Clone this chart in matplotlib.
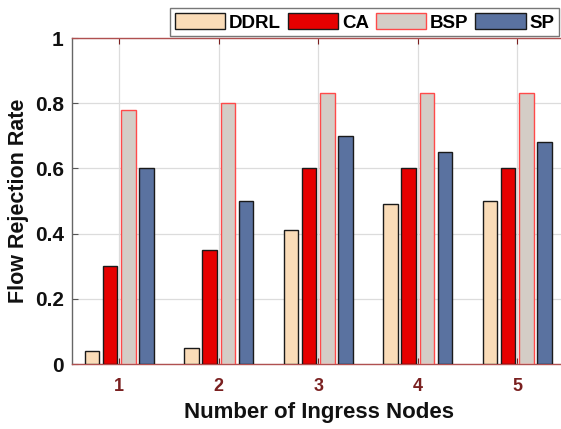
import matplotlib
matplotlib.use("Agg")
import matplotlib.pyplot as plt
import numpy as np

plt.rcParams['font.family'] = ['Liberation Sans', 'DejaVu Sans']
plt.rcParams['font.weight'] = 'bold'

nodes = [1, 2, 3, 4, 5]
series_names = ["DDRL", "CA", "BSP", "SP"]
ddrl = [0.04, 0.05, 0.41, 0.49, 0.50]
ca = [0.30, 0.35, 0.60, 0.60, 0.60]
bsp = [0.78, 0.80, 0.83, 0.83, 0.83]
sp = [0.60, 0.50, 0.70, 0.65, 0.68]
y_ticks = [0, 0.2, 0.4, 0.6, 0.8, 1]
y_tick_labels = ["0", "0.2", "0.4", "0.6", "0.8", "1"]

face_colors = ["#FADCB8", "#E60000", "#D4CDC6", "#5A72A0"]
edge_colors = ["#1A1A1A", "#1A1A1A", "#FF4A4A", "#1A1A1A"]
axis_red = "#7A2020"

W, H = 561, 429
fig = plt.figure(figsize=(W / 100, H / 100), dpi=100)
ax_left, ax_right, ax_top, ax_bottom = 72, 567, 38, 364
ax = fig.add_axes([ax_left / W, 1 - ax_bottom / H,
                   (ax_right - ax_left) / W, (ax_bottom - ax_top) / H])

x = np.array(nodes, dtype=float)
offsets = [-0.273, -0.091, 0.091, 0.273]
bar_w = 0.145
handles = []
for vals, name, fc, ec, off in zip([ddrl, ca, bsp, sp], series_names,
                                   face_colors, edge_colors, offsets):
    b = ax.bar(x + off, vals, width=bar_w, color=fc, edgecolor=ec,
               linewidth=1.0, label=name, zorder=3)
    handles.append(b)

ax.set_xlim(0.525, 5.5)
ax.set_ylim(0, 1)
ax.set_xticks(nodes)
ax.set_xticklabels([str(n) for n in nodes], fontsize=13, fontweight='bold',
                   color=axis_red)
ax.set_yticks(y_ticks)
ax.set_yticklabels(y_tick_labels, fontsize=15, fontweight='bold', color='#111111')
ax.tick_params(axis='x', direction='in', length=4, color=axis_red, pad=10,
               top=True)
ax.tick_params(axis='y', direction='in', length=4, color='#555555', pad=6)

ax.grid(True, color='#DCDCDC', linewidth=0.9, zorder=0)
ax.set_axisbelow(True)

for side in ('top', 'bottom'):
    ax.spines[side].set_color('#B05050')
    ax.spines[side].set_linewidth(1.0)
for side in ('left', 'right'):
    ax.spines[side].set_color('#666666')
    ax.spines[side].set_linewidth(1.0)

ax.set_xlabel("Number of Ingress Nodes", fontsize=16, fontweight='bold',
              color='#111111', labelpad=5)
ax.set_ylabel("Flow Rejection Rate", fontsize=15.5, fontweight='bold',
              color='#111111', labelpad=4)

leg = fig.legend(handles=handles, labels=series_names, ncol=4,
                 loc='upper left', bbox_to_anchor=(170 / W, 1 - 8 / H),
                 fontsize=13.5, frameon=True, fancybox=False,
                 handlelength=2.7, handleheight=1.0, handletextpad=0.2,
                 columnspacing=0.35, borderpad=0.25, borderaxespad=0)
leg.get_frame().set_edgecolor('#555555')
leg.get_frame().set_linewidth(1.0)
for t in leg.get_texts():
    t.set_fontweight('bold')

fig.savefig("out.png", dpi=100)
